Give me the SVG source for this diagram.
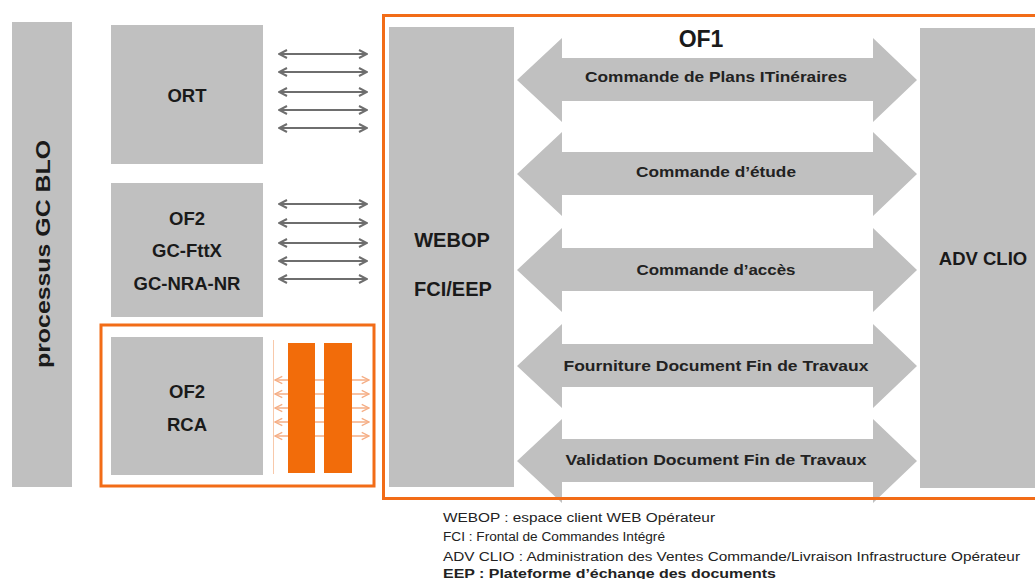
<svg xmlns="http://www.w3.org/2000/svg" width="1035" height="579" viewBox="0 0 1035 579">
<style>
.box{fill:#c0c0c0}
.lbl{font-family:"Liberation Sans",Arial,sans-serif;font-weight:bold;fill:#1a1a1a;text-anchor:middle}
.big{fill:#c0c0c0}
.alab{font-family:"Liberation Sans",Arial,sans-serif;font-weight:bold;font-size:15px;fill:#222;text-anchor:middle}
.leg{font-family:"Liberation Sans",Arial,sans-serif;font-size:12px;fill:#222}
.sa{stroke:#6e6e6e;stroke-width:2;fill:none;marker-start:url(#gh);marker-end:url(#gh)}
.oa{stroke:#f5ae85;stroke-width:1.3;fill:none;marker-start:url(#oh);marker-end:url(#oh)}
.ob{fill:none;stroke:#f26c17;stroke-width:3}
</style>
<defs>
<marker id="gh" viewBox="0 0 10 10" refX="9" refY="5" markerWidth="5" markerHeight="5" orient="auto-start-reverse" markerUnits="strokeWidth">
<path d="M1,1 L9,5 L1,9" fill="none" stroke="#6e6e6e" stroke-width="2"/>
</marker>
<marker id="oh" viewBox="0 0 10 10" refX="9" refY="5" markerWidth="7" markerHeight="7" orient="auto-start-reverse" markerUnits="strokeWidth">
<path d="M1,1 L9,5 L1,9" fill="none" stroke="#f5ae85" stroke-width="1.5"/>
</marker>
</defs>
<rect width="1035" height="579" fill="#ffffff"/>

<g id="processus">
<rect class="box" x="12" y="22" width="60" height="465"/>
<text class="lbl" font-size="21" transform="translate(50,254) rotate(-90)" textLength="228" lengthAdjust="spacingAndGlyphs">processus GC BLO</text>
</g>

<g id="ORT">
<rect class="box" x="111" y="25" width="152" height="139"/>
<text class="lbl" font-size="18.5" x="187" y="102">ORT</text>
</g>

<g id="OF2-GC">
<rect class="box" x="111" y="183" width="152" height="134"/>
<text class="lbl" font-size="18.5" x="187" y="225">OF2</text>
<text class="lbl" font-size="18.5" x="187" y="257">GC-FttX</text>
<text class="lbl" font-size="18.5" x="187" y="290">GC-NRA-NR</text>
</g>

<g id="RCA-group">
<rect class="ob" x="101" y="325" width="273" height="161"/>
<rect class="box" x="111" y="337" width="152" height="138"/>
<text class="lbl" font-size="18.5" x="187" y="398">OF2</text>
<text class="lbl" font-size="18.5" x="187" y="431">RCA</text>
<line x1="273.5" y1="340" x2="273.5" y2="474" stroke="#f8c9ab" stroke-width="1"/>
</g>

<g id="WEBOP">
<rect class="box" x="389" y="27" width="125" height="460"/>
<text class="lbl" font-size="20" x="452" y="247">WEBOP</text>
<text class="lbl" font-size="20" x="453" y="296">FCI/EEP</text>
</g>

<g id="ADVCLIO">
<rect class="box" x="920" y="28" width="120" height="460"/>
<text class="lbl" font-size="18.5" x="983" y="265">ADV CLIO</text>
</g>

<g id="connectors">
<g>
<line class="sa" x1="279" y1="54" x2="367" y2="54"/>
<line class="sa" x1="279" y1="72" x2="367" y2="72"/>
<line class="sa" x1="279" y1="92" x2="367" y2="92"/>
<line class="sa" x1="279" y1="110" x2="367" y2="110"/>
<line class="sa" x1="279" y1="128" x2="367" y2="128"/>
<line class="sa" x1="279" y1="204" x2="367" y2="204"/>
<line class="sa" x1="279" y1="223" x2="367" y2="223"/>
<line class="sa" x1="279" y1="243" x2="367" y2="243"/>
<line class="sa" x1="279" y1="261" x2="367" y2="261"/>
<line class="sa" x1="279" y1="279" x2="367" y2="279"/>
</g>
<g>
<line class="oa" x1="275" y1="380" x2="369" y2="380"/>
<line class="oa" x1="275" y1="394" x2="369" y2="394"/>
<line class="oa" x1="275" y1="408" x2="369" y2="408"/>
<line class="oa" x1="275" y1="422" x2="369" y2="422"/>
<line class="oa" x1="275" y1="436" x2="369" y2="436"/>
<rect x="288" y="343" width="27" height="130" fill="#f26c0a"/>
<rect x="324" y="343" width="28" height="130" fill="#f26c0a"/>
</g>
<g id="big-arrows">
<path class="big" d="M517,80 L562,38 L562,58 L873,58 L873,38 L917,80 L873,122 L873,101 L562,101 L562,122 Z"/>
<path class="big" d="M517,174 L562,132 L562,152 L873,152 L873,132 L917,174 L873,216 L873,195 L562,195 L562,216 Z"/>
<path class="big" d="M517,270 L562,228 L562,248 L873,248 L873,228 L917,270 L873,312 L873,291 L562,291 L562,312 Z"/>
<path class="big" d="M517,366 L562,324 L562,344 L873,344 L873,324 L917,366 L873,408 L873,387 L562,387 L562,408 Z"/>
<path class="big" d="M517,461 L562,419 L562,439 L873,439 L873,419 L917,461 L873,503 L873,482 L562,482 L562,503 Z"/>
<text class="alab" x="716" y="82" textLength="262" lengthAdjust="spacingAndGlyphs">Commande de Plans ITinéraires</text>
<text class="alab" x="716" y="177" textLength="160" lengthAdjust="spacingAndGlyphs">Commande d’étude</text>
<text class="alab" x="716" y="275" textLength="159" lengthAdjust="spacingAndGlyphs">Commande d’accès</text>
<text class="alab" x="716" y="371" textLength="305" lengthAdjust="spacingAndGlyphs">Fourniture Document Fin de Travaux</text>
<text class="alab" x="716" y="465" textLength="301" lengthAdjust="spacingAndGlyphs">Validation Document Fin de Travaux</text>
</g>
</g>

<g id="OF1">
<rect class="ob" x="383.5" y="15.5" width="660" height="483"/>
<text class="lbl" font-size="23" x="701" y="47">OF1</text>
</g>

<g id="legend">
<text class="leg" x="443" y="522" textLength="272" lengthAdjust="spacingAndGlyphs">WEBOP : espace client WEB Opérateur</text>
<text class="leg" x="443" y="541" textLength="222" lengthAdjust="spacingAndGlyphs">FCI : Frontal de Commandes  Intégré</text>
<text class="leg" x="443" y="561" textLength="577" lengthAdjust="spacingAndGlyphs">ADV CLIO : Administration  des Ventes Commande/Livraison  Infrastructure Opérateur</text>
<text class="leg" x="443" y="578" font-weight="bold" font-size="13" textLength="333" lengthAdjust="spacingAndGlyphs">EEP : Plateforme d’échange des documents</text>
</g>
</svg>
